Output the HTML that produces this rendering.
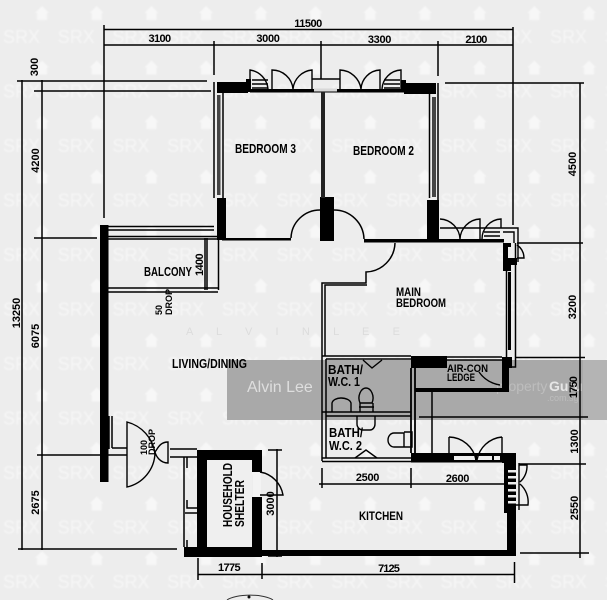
<!DOCTYPE html>
<html><head><meta charset="utf-8"><style>
html,body{margin:0;padding:0;background:#ededed;width:607px;height:600px;overflow:hidden}
svg{display:block}
text{font-family:"Liberation Sans",sans-serif}
.l{font-weight:bold;fill:#000;font-size:13px}
.d{font-weight:bold;fill:#000;font-size:11px;text-anchor:middle}
</style></head><body>
<svg width="607" height="600" viewBox="0 0 607 600" xmlns="http://www.w3.org/2000/svg">
<defs>
<pattern id="wm" width="54.7" height="54.5" patternUnits="userSpaceOnUse" x="0" y="0">
<text x="3" y="43" font-size="18" fill="#f6f6f6">SRX</text>
<path d="M42 6l-7 7h2v7h10v-7h2z" fill="#f7f7f7"/>
</pattern>
<filter id="b" x="0" y="0" width="100%" height="100%"><feGaussianBlur stdDeviation="0.35"/></filter>
<filter id="w" x="0" y="0" width="100%" height="100%"><feGaussianBlur stdDeviation="0.7"/></filter>
</defs>
<rect width="607" height="600" fill="#ededed"/>
<rect width="607" height="600" fill="url(#wm)" filter="url(#w)"/>
<rect x="227" y="360" width="356" height="60" fill="#a9a9a9"/>
<rect x="583" y="360" width="24" height="60" fill="#b4b4b4"/>
<text x="247" y="392" font-size="16" fill="#dedede">Alvin Lee</text>
<text x="496" y="391" font-size="14" fill="#bdbdbd">property</text>
<text x="549" y="391" font-size="14" font-weight="bold" fill="#e6e6e6">Guru</text>
<text x="547" y="401" font-size="9" fill="#bdbdbd">.com.sg</text>
<text x="186" y="335" font-size="11" fill="#dcdcdc" textLength="214" lengthAdjust="spacing">A L V I N  L E E</text>

<g filter="url(#b)">
<!-- dimension lines -->
<g stroke="#000" stroke-width="1.500" fill="none">
<path d="M104 29.500H513M104 45H513M104 25V218M513 27V225M214 41V75M321 41V79M438 41V76"/>
<path d="M22 80V550M42 80V550M17 81H207M34 91H211M34 238H97M37 455H100M18 549H177"/>
<path d="M580 83V558M445 83H584M517 243H583M516 357.500H585M419 417H588M519 464H586M520 553H589"/>
<path d="M277 449V557M268 450H282M268 556H282"/>
<path d="M198 574.500H515M198 558V580M262 563V579M514.500 562V583"/>
<path d="M319 484H504M322 468V488M411 468V488"/>
</g>
<!-- solid walls -->
<g fill="#000">
<rect x="217" y="82" width="31" height="11"/>
<rect x="246" y="79" width="5" height="13"/>
<rect x="404" y="83" width="32" height="11"/>
<rect x="401" y="80" width="5" height="12"/>
<rect x="250" y="89" width="154" height="3.500"/>
<rect x="217" y="198" width="9" height="42"/>
<rect x="320" y="197" width="14" height="44"/>
<rect x="427" y="200" width="12" height="42"/>
<rect x="222" y="238" width="69" height="2.500"/>
<rect x="364" y="239" width="140" height="3.500"/>
<rect x="503" y="243" width="8" height="28"/>
<rect x="511" y="258" width="6" height="7"/>
<rect x="100" y="225" width="8.500" height="257"/>
<rect x="411" y="356" width="36" height="12"/>
<rect x="502" y="357" width="10" height="11"/>
<rect x="502" y="357" width="7" height="35"/>
<rect x="415" y="388" width="94" height="4"/>
<rect x="411" y="453" width="38" height="9.500"/>
<rect x="449" y="453" width="53" height="9.500"/>
<rect x="502" y="453" width="14" height="10"/>
<rect x="504" y="462" width="12" height="51"/>
<rect x="507" y="513" width="9" height="43"/>
<rect x="262" y="550" width="254" height="6"/>
<rect x="197" y="450" width="65" height="10"/>
<rect x="197" y="450" width="10" height="107"/>
<rect x="252" y="450" width="10" height="22"/>
<rect x="252" y="497" width="10" height="60"/>
<rect x="184" y="547" width="78" height="10"/>
<rect x="217" y="95" width="3.500" height="100" fill="#444"/>
<rect x="432" y="97" width="4" height="100" fill="#444"/>
<rect x="321" y="92" width="4" height="106" fill="#222"/>
<rect x="508" y="272" width="3" height="78"/>
</g>
<rect x="207" y="460" width="45" height="87" fill="#efefef"/>
<rect x="253" y="472" width="8" height="25" fill="#f3f3f3"/>
<rect x="314" y="88.500" width="23" height="3" fill="#d8d8d8"/>
<!-- white slots in window sills -->
<g fill="#eeeeee">
<rect x="454" y="456" width="6" height="4"/>
<rect x="459" y="456" width="16" height="4"/>
<rect x="477" y="456" width="15" height="4"/>
<rect x="494" y="456" width="6" height="4"/>
<rect x="508" y="470" width="8" height="2.500"/>
<rect x="508" y="476" width="8" height="2.500"/>
<rect x="508" y="482" width="8" height="2.500"/>
<rect x="508" y="489" width="8" height="2.500"/>
<rect x="508" y="495" width="8" height="2.500"/>
<rect x="508" y="501" width="8" height="2.500"/>
<rect x="508" y="247" width="3" height="11"/>
<rect x="512" y="247" width="3" height="11"/>
</g>
<!-- thin walls and details -->
<g stroke="#000" stroke-width="1.500" fill="none">
<path d="M214 82V198M223 93V198"/>
<path d="M429.500 94V198M438 83V200"/>
<path d="M108 226.500H214M108 230H214M108 236.500H217M108 239H217"/>
<path d="M205 238V290M207 238V290M218.500 240V290M108 288H218M108 292H218"/>
<path d="M291 238A29 29 0 0 1 320 210M364 239A30 30 0 0 0 334 210"/>
<path d="M395 243A30 30 0 0 1 366 272V283H322V356M367 285H325V356"/>
<path d="M506.500 271V367M515.500 243V367H506"/>
<path d="M322 356H411M326 359H411"/>
<path d="M322 356V461M326 359V458"/>
<path d="M322 412H411M326 416H411"/>
<path d="M322 458H411M322 461.500H411"/>
<path d="M447 357H502M447 360H502"/>
<path d="M411 368V453M415 368V453" stroke-width="1.800"/>
<path d="M432 392V453"/>
<path d="M109 416V449M112 416V448M112 448H127M108 455H127"/>
<path d="M170 449H197M170 457H197"/>
<path d="M184 457V547M187 457V468M187 500V508H198M185 513H198M187 540V547"/>
</g>
<!-- top windows -->
<g stroke="#000" stroke-width="1.400" fill="none">
<path d="M250 90V70A21 21 0 0 1 268 89M272 90V70A21 21 0 0 1 293 89M293 89A21 21 0 0 1 312 70V90"/>
<path d="M252 80H268M252 84H268M252 88H268"/>
<path d="M340 90V70A22 22 0 0 1 361 89M361 89A20 20 0 0 1 380 70V90M382 89A20 20 0 0 1 401 70V90"/>
<path d="M384 80H400M384 84H400M384 88H400"/>
<path d="M312 79H340"/>
<path d="M440 219A21 21 0 0 1 460 239M460 239A21 21 0 0 1 480 219V239M482 239A20 20 0 0 1 501 219V228"/>
<path d="M440 228H518V262"/>
<path d="M484 232H500M484 236H500M503 232H514V243"/>
<path d="M517 245A16 16 0 0 1 524 258H517"/>
</g>
<!-- kitchen windows -->
<g stroke="#000" stroke-width="1.400" fill="none">
<path d="M449 437V453M449 437A28 28 0 0 1 476 460M502 437A28 28 0 0 0 477 460M502 437V453"/>
<path d="M519 465H527A22 22 0 0 1 520 482M520 484A24 24 0 0 1 528 505H516M519 463V510"/>
</g>
<!-- entry doors -->
<g stroke="#000" stroke-width="1.400" fill="none">
<path d="M127 422V487A36 36 0 0 0 155 453A38 38 0 0 0 127 422Z"/>
<path d="M168 442V463C160 463 156 456 155 452C158 448 160 442 168 442Z"/>
<path d="M260 472A28 28 0 0 1 283 495H260"/>
</g>
<!-- air-con door -->
<path d="M479 372A32 32 0 0 0 500 385" stroke="#000" stroke-width="1.400" fill="none"/>
<!-- bath fixtures -->
<g stroke="#000" stroke-width="1.400" fill="none">
<path d="M363 360L372 368L382 360"/>
<path d="M332 412V403A9 6 0 0 1 341 398A10 6 0 0 1 351 403V412"/>
<path d="M360 403C357 396 361 388 366 388C371 388 375 396 372 403H360ZM360 403V412M373 403V412M359 407H374"/>
<path d="M357 416V424A6 6 0 0 0 363 430H370A5 6 0 0 0 375 424V416"/>
<path d="M404 433H394A6 7 0 0 0 394 447H404ZM404 432H412V447H404"/>
<path d="M355 458L366 450L377 458"/>
</g>
<!-- room labels -->
<text class="l" x="235" y="153" textLength="61" lengthAdjust="spacingAndGlyphs">BEDROOM 3</text>
<text class="l" x="353" y="155" textLength="61" lengthAdjust="spacingAndGlyphs">BEDROOM 2</text>
<text class="l" x="144" y="276" textLength="48" lengthAdjust="spacingAndGlyphs">BALCONY</text>
<text class="l" x="396" y="296" style="font-size:12px" textLength="25" lengthAdjust="spacingAndGlyphs">MAIN</text>
<text class="l" x="396" y="307" style="font-size:12px" textLength="50" lengthAdjust="spacingAndGlyphs">BEDROOM</text>
<text class="l" x="172" y="368" textLength="75" lengthAdjust="spacingAndGlyphs">LIVING/DINING</text>
<text class="l" x="328" y="374" textLength="35" lengthAdjust="spacingAndGlyphs">BATH/</text>
<text class="l" x="328" y="386" textLength="32" lengthAdjust="spacingAndGlyphs">W.C. 1</text>
<text class="l" x="329" y="437" textLength="34" lengthAdjust="spacingAndGlyphs">BATH/</text>
<text class="l" x="329" y="450" textLength="33" lengthAdjust="spacingAndGlyphs">W.C. 2</text>
<text class="l" x="447" y="372" style="font-size:11px" textLength="41" lengthAdjust="spacingAndGlyphs">AIR-CON</text>
<text class="l" x="447" y="381" style="font-size:11px" textLength="28" lengthAdjust="spacingAndGlyphs">LEDGE</text>
<text class="l" x="359" y="520" style="font-size:12px" textLength="44" lengthAdjust="spacingAndGlyphs">KITCHEN</text>
<text class="l" transform="translate(232,527) rotate(-90)" textLength="64" lengthAdjust="spacingAndGlyphs">HOUSEHOLD</text>
<text class="l" transform="translate(244,527) rotate(-90)" textLength="47" lengthAdjust="spacingAndGlyphs">SHELTER</text>
<!-- dimension labels -->
<text class="d" x="308" y="27" letter-spacing="-.5">11500</text>
<text class="d" x="159.500" y="42" letter-spacing="-.6">3100</text>
<text class="d" x="268" y="42" letter-spacing="-.3">3000</text>
<text class="d" x="379.500" y="43" letter-spacing="-.3">3300</text>
<text class="d" x="476" y="43" letter-spacing="-.8">2100</text>
<text class="d" x="367.500" y="481" letter-spacing="-.3">2500</text>
<text class="d" x="457.500" y="482" letter-spacing="-.3">2600</text>
<text class="d" x="229" y="571" letter-spacing="-.6">1775</text>
<text class="d" x="388.500" y="572" letter-spacing="-.9">7125</text>
<text class="d" transform="translate(38,67) rotate(-90)">300</text>
<text class="d" transform="translate(39,160.500) rotate(-90)">4200</text>
<text class="d" transform="translate(20,313) rotate(-90)">13250</text>
<text class="d" transform="translate(39,336) rotate(-90)">6075</text>
<text class="d" transform="translate(39,502.500) rotate(-90)">2675</text>
<text class="d" transform="translate(203,265) rotate(-90)" letter-spacing="-.6">1400</text>
<text class="d" transform="translate(274,503.500) rotate(-90)">3000</text>
<text class="d" transform="translate(576,164) rotate(-90)">4500</text>
<text class="d" transform="translate(576,307) rotate(-90)">3200</text>
<text class="d" transform="translate(577,387.500) rotate(-90)" letter-spacing="-.8">1750</text>
<text class="d" transform="translate(578,441.500) rotate(-90)">1300</text>
<text class="d" transform="translate(578,508) rotate(-90)">2550</text>
<text class="d" style="font-size:9px;text-anchor:start" transform="translate(162,315) rotate(-90)">50</text>
<text class="d" style="font-size:9px;text-anchor:start" transform="translate(172,315) rotate(-90)">DROP</text>
<text class="d" style="font-size:9px;text-anchor:start" transform="translate(147,455) rotate(-90)">100</text>
<text class="d" style="font-size:9px;text-anchor:start" transform="translate(155,455) rotate(-90)">DROP</text>
<!-- bottom circle stub -->
<path d="M227 600A25 8 0 0 1 273 600" stroke="#333" stroke-width="1" fill="none"/>
<circle cx="249" cy="597" r="1.500" fill="#111"/>
</g>
</svg>
</body></html>
